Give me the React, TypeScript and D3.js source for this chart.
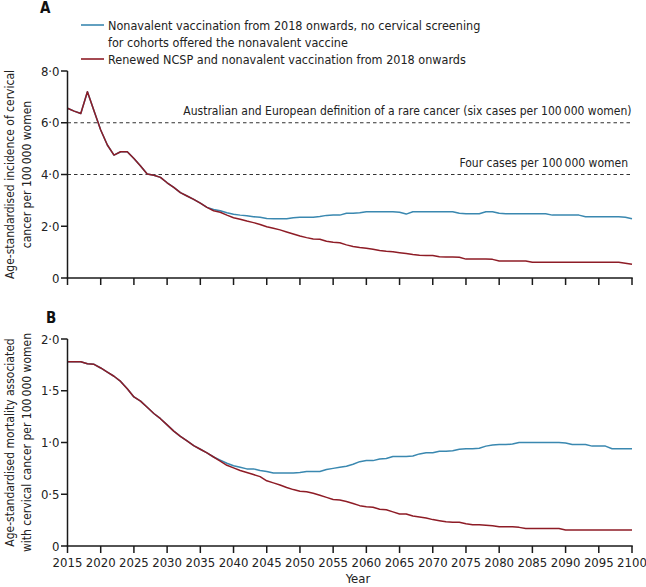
import React from "react";
import * as d3 from "d3";

const years: number[] = d3.range(2015, 2101);
const xTicks: number[] = d3.range(2015, 2101, 5);

const incidenceRenewed: number[] = [
  6.56, 6.45, 6.36, 7.2, 6.45, 5.72, 5.14, 4.75, 4.88, 4.88,
  4.62, 4.33, 4.02, 3.97, 3.89, 3.68, 3.5, 3.3, 3.17, 3.04,
  2.89, 2.73, 2.6, 2.54, 2.43, 2.33, 2.27, 2.2, 2.14, 2.07,
  1.98, 1.92, 1.86, 1.78, 1.7, 1.62, 1.56, 1.51, 1.5, 1.42,
  1.38, 1.36, 1.28, 1.22, 1.18, 1.15, 1.11, 1.06, 1.03, 1.01,
  0.98, 0.95, 0.91, 0.88, 0.87, 0.87, 0.82, 0.81, 0.81, 0.8,
  0.73, 0.73, 0.73, 0.73, 0.72, 0.66, 0.66, 0.66, 0.66, 0.66,
  0.61, 0.61, 0.61, 0.61, 0.61, 0.61, 0.61, 0.61, 0.61, 0.61,
  0.61, 0.61, 0.61, 0.61, 0.57, 0.53,
];

// 2037 onwards, no screening for vaccinated cohorts
const incidenceNoScreeningTail: number[] = [
  2.65, 2.6, 2.52, 2.46, 2.43, 2.41, 2.37, 2.35, 2.3, 2.29,
  2.29, 2.29, 2.33, 2.35, 2.35, 2.35, 2.38, 2.42, 2.43, 2.43,
  2.5, 2.5, 2.52, 2.56, 2.56, 2.56, 2.56, 2.56, 2.54, 2.47,
  2.56, 2.56, 2.56, 2.56, 2.56, 2.56, 2.56, 2.5, 2.48, 2.48,
  2.48, 2.56, 2.56, 2.5, 2.48, 2.48, 2.48, 2.48, 2.48, 2.48,
  2.48, 2.43, 2.43, 2.43, 2.43, 2.43, 2.37, 2.37, 2.37, 2.37,
  2.37, 2.37, 2.35, 2.29,
];
const incidenceNoScreening: number[] = [...incidenceRenewed.slice(0, 22), ...incidenceNoScreeningTail];

const mortalityRenewed: number[] = [
  1.78, 1.78, 1.78, 1.76, 1.755, 1.72, 1.68, 1.64, 1.59, 1.52,
  1.44, 1.4, 1.34, 1.28, 1.23, 1.17, 1.11, 1.06, 1.015, 0.97,
  0.935, 0.9, 0.86, 0.82, 0.78, 0.755, 0.73, 0.71, 0.69, 0.67,
  0.63, 0.61, 0.59, 0.565, 0.545, 0.53, 0.525, 0.51, 0.49, 0.47,
  0.45, 0.445, 0.43, 0.41, 0.39, 0.38, 0.375, 0.355, 0.35, 0.33,
  0.31, 0.31, 0.29, 0.28, 0.27, 0.255, 0.245, 0.235, 0.23, 0.23,
  0.215, 0.205, 0.205, 0.2, 0.195, 0.185, 0.185, 0.185, 0.18, 0.17,
  0.17, 0.17, 0.17, 0.17, 0.17, 0.155, 0.155, 0.155, 0.155, 0.155,
  0.155, 0.155, 0.155, 0.155, 0.155, 0.155,
];

// 2038 onwards
const mortalityNoScreeningTail: number[] = [
  0.83, 0.8, 0.775, 0.76, 0.745, 0.745, 0.73, 0.72, 0.705, 0.705,
  0.705, 0.705, 0.71, 0.72, 0.72, 0.72, 0.74, 0.75, 0.76, 0.77,
  0.79, 0.815, 0.825, 0.825, 0.84, 0.845, 0.865, 0.865, 0.865, 0.87,
  0.89, 0.9, 0.9, 0.915, 0.915, 0.92, 0.935, 0.94, 0.94, 0.945,
  0.965, 0.975, 0.98, 0.98, 0.985, 1.0, 1.0, 1.0, 1.0, 1.0,
  1.0, 1.0, 0.995, 0.98, 0.98, 0.98, 0.965, 0.965, 0.965, 0.94,
  0.94, 0.94, 0.94,
];
const mortalityNoScreening: number[] = [...mortalityRenewed.slice(0, 23), ...mortalityNoScreeningTail];

const yTicksA: number[] = [0, 2, 4, 6, 8];
const yTicksB: number[] = [0, 0.5, 1, 1.5, 2];

const legendLabels: string[][] = [
  ["Nonavalent vaccination from 2018 onwards, no cervical screening", "for cohorts offered the nonavalent vaccine"],
  ["Renewed NCSP and nonavalent vaccination from 2018 onwards"],
];
const thresholds: { value: number; label: string }[] = [
  { value: 6, label: "Australian and European definition of a rare cancer (six cases per 100\u2009000 women)" },
  { value: 4, label: "Four cases per 100\u2009000 women" },
];

const BLUE = "#3a88b0";
const RED = "#8e1c26";
const FONT = "'Liberation Sans Narrow', 'Arial Narrow', 'DejaVu Sans Condensed', sans-serif";

const fmt = (v: number) => (v === 0 ? "0" : v.toFixed(1).replace(".", "\u00b7"));

export default function App() {
  const x = d3.scaleLinear().domain([2015, 2100]).range([67.5, 632]);
  const yA = d3.scaleLinear().domain([0, 8]).range([278, 71]);
  const yB = d3.scaleLinear().domain([0, 2]).range([546, 339]);

  const lineA = d3.line<number>().x((_, i) => x(years[i])).y((d) => yA(d));
  const lineB = d3.line<number>().x((_, i) => x(years[i])).y((d) => yB(d));

  const axisColor = "#1a1a1a";
  const textColor = "#222";

  const yAxis = (scale: d3.ScaleLinear<number, number>, ticks: number[]) => (
    <g>
      <line x1={x(2015)} x2={x(2015)} y1={scale(0)} y2={scale.range()[1]} stroke={axisColor} strokeWidth={1.5} />
      {ticks.map((t) => (
        <g key={t}>
          <line x1={x(2015) - 6.5} x2={x(2015)} y1={scale(t)} y2={scale(t)} stroke={axisColor} strokeWidth={1.5} />
          <text x={x(2015) - 8} y={scale(t) + 4.5} textAnchor="end" fontSize={13} fill={textColor}>
            {fmt(t)}
          </text>
        </g>
      ))}
    </g>
  );

  const xAxis = (y0: number, labels: boolean) => (
    <g>
      <line x1={x(2015) - 0.75} x2={x(2100) + 0.75} y1={y0} y2={y0} stroke={axisColor} strokeWidth={1.5} />
      {xTicks.map((t) => (
        <g key={t}>
          <line x1={x(t)} x2={x(t)} y1={y0} y2={y0 + 7} stroke={axisColor} strokeWidth={1.5} />
          {labels && (
            <text x={x(t)} y={y0 + 20.5} textAnchor="middle" fontSize={13} fill={textColor}>
              {t}
            </text>
          )}
        </g>
      ))}
    </g>
  );

  return (
    <svg
      width={646}
      height={587}
      style={{ position: "absolute", left: 0, top: 0, background: "#fff" }}
      fontFamily={FONT}
    >
      <rect width={646} height={587} fill="#fff" />
      {/* Panel labels */}
      <text x={40} y={13} fontSize={15} fontWeight="bold" fill="#111">A</text>
      <text x={46} y={323} fontSize={15} fontWeight="bold" fill="#111">B</text>

      {/* Legend */}
      <line x1={81} x2={104} y1={25} y2={25} stroke={BLUE} strokeWidth={1.6} />
      <text x={108} y={30} fontSize={12.5} fill={textColor}>{legendLabels[0][0]}</text>
      <text x={108} y={47} fontSize={12.5} fill={textColor}>{legendLabels[0][1]}</text>
      <line x1={81} x2={104} y1={59} y2={59} stroke={RED} strokeWidth={1.6} />
      <text x={108} y={64} fontSize={12.5} fill={textColor}>{legendLabels[1][0]}</text>

      {/* Panel A */}
      {thresholds.map((t, i) => (
        <g key={t.value}>
          <line x1={x(2015)} x2={x(2100)} y1={yA(t.value)} y2={yA(t.value)} stroke="#333" strokeWidth={1.2} strokeDasharray="3.5,3" />
          <text x={i === 0 ? 631.5 : 628} y={yA(t.value) - 8} textAnchor="end" fontSize={12} fill={textColor}>
            {t.label}
          </text>
        </g>
      ))}
      <path d={lineA(incidenceNoScreening) || ""} fill="none" stroke={BLUE} strokeWidth={1.5} strokeLinejoin="round" />
      <path d={lineA(incidenceRenewed) || ""} fill="none" stroke={RED} strokeWidth={1.5} strokeLinejoin="round" />
      {yAxis(yA, yTicksA)}
      {xAxis(yA(0), false)}
      <text transform={`translate(14,${(yA(0) + yA(8)) / 2}) rotate(-90)`} textAnchor="middle" fontSize={12} fill={textColor}>
        Age-standardised incidence of cervical
      </text>
      <text transform={`translate(31,${(yA(0) + yA(8)) / 2}) rotate(-90)`} textAnchor="middle" fontSize={12} fill={textColor}>
        cancer per 100{"\u2009"}000 women
      </text>

      {/* Panel B */}
      <path d={lineB(mortalityNoScreening) || ""} fill="none" stroke={BLUE} strokeWidth={1.5} strokeLinejoin="round" />
      <path d={lineB(mortalityRenewed) || ""} fill="none" stroke={RED} strokeWidth={1.5} strokeLinejoin="round" />
      {yAxis(yB, yTicksB)}
      {xAxis(yB(0), true)}
      <text transform={`translate(14,${(yB(0) + yB(2)) / 2}) rotate(-90)`} textAnchor="middle" fontSize={12} fill={textColor}>
        Age-standardised mortality associated
      </text>
      <text transform={`translate(31,${(yB(0) + yB(2)) / 2}) rotate(-90)`} textAnchor="middle" fontSize={12} fill={textColor}>
        with cervical cancer per 100{"\u2009"}000 women
      </text>
      <text x={358} y={583} textAnchor="middle" fontSize={13} fill={textColor}>Year</text>
    </svg>
  );
}
